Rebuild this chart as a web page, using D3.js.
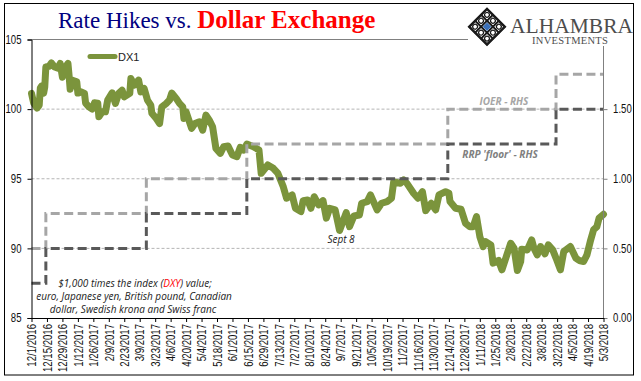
<!DOCTYPE html>
<html>
<head>
<meta charset="utf-8">
<script src="https://d3js.org/d3.v7.min.js"></script>
<style>
  html, body { margin: 0; padding: 0; background: #fff; }
  svg { display: block; }
</style>
</head>
<body>
<div id="chart"></div>
<script>
var width = 641;
var height = 381;

var startDate = new Date(2016, 11, 1);

// labelled every two weeks, 12/1/2016 to 5/3/2018
var tickLabels = ['12/1/2016','12/15/2016','12/29/2016','1/12/2017','1/26/2017','2/9/2017','2/23/2017','3/9/2017','3/23/2017','4/6/2017','4/20/2017','5/4/2017','5/18/2017','6/1/2017','6/15/2017','6/29/2017','7/13/2017','7/27/2017','8/10/2017','8/24/2017','9/7/2017','9/21/2017','10/5/2017','10/19/2017','11/2/2017','11/16/2017','11/30/2017','12/14/2017','12/28/2017','1/11/2018','1/25/2018','2/8/2018','2/22/2018','3/8/2018','3/22/2018','4/5/2018','4/19/2018','5/3/2018'];

var leftTicks = [85, 90, 95, 100, 105];
var rightTicks = [0, 0.5, 1, 1.5];

// DX1, days after 12/1/2016 and index value
var dxDays = [0,2,5,7,8,9,11,12,13,16,18,21,24,26,28,30,33,34,35,37,41,42,45,48,49,52,55,57,60,61,64,67,69,73,76,79,82,84,89,90,93,97,99,102,105,108,109,113,116,118,122,125,127,131,134,137,138,140,145,148,152,155,158,161,164,167,171,174,178,182,186,189,192,195,201,206,208,214,219,223,228,231,236,239,244,246,250,253,256,260,264,267,270,275,279,285,288,292,297,299,304,307,313,317,322,326,328,334,337,340,346,350,354,357,362,366,369,375,378,379,384,389,393,397,400,403,406,409,411,416,418,423,426,429,434,437,440,443,444,449,453,455,458,461,465,468,472,475,479,482,488,493,496,500,503,506,509,512,514,518];
var dxValues = [101.13,100.43,100.07,100.29,101.51,101.65,101.15,101.58,103.03,103.08,103.32,103.03,102.94,103.28,102.29,102.94,103.28,102.44,101.43,102.08,101.96,101.15,101.24,101.13,100.43,100.16,100.0,100.45,100.43,99.45,99.81,99.81,100.65,101.17,100.41,101.13,101.36,100.88,101.13,102.2,101.72,102.08,101.24,101.48,100.65,100.29,99.71,99.33,98.97,100.16,100.41,100.65,101.15,100.77,100.41,100.16,99.33,99.81,98.62,98.97,99.09,98.49,99.57,99.21,98.73,97.18,96.82,97.3,97.35,96.7,96.58,97.25,97.06,97.49,97.3,97.06,95.39,95.99,95.75,95.41,94.43,93.6,93.84,92.88,92.64,93.43,93.48,92.88,93.71,93.12,93.43,92.17,92.88,92.76,91.28,92.57,91.56,92.33,92.4,93.24,93.36,93.84,92.76,93.24,93.36,93.6,94.79,94.67,94.91,94.67,93.96,93.6,94.07,92.71,93.24,92.76,93.84,94.07,93.96,93.36,92.88,92.81,91.81,91.56,91.56,92.28,90.85,90.13,90.49,90.25,88.94,89.13,88.46,89.18,90.37,90.01,88.41,89.05,89.94,89.89,90.61,90.01,89.53,90.13,89.61,90.25,89.89,89.3,88.46,89.77,90.13,89.3,89.13,89.06,89.53,90.49,91.33,91.56,92.17,92.45];

// policy rates, days after 12/1/2016 of each change (last entry is the chart end)
var rateDays = [0, 13, 104, 195, 377, 475, 518];
var rrpValues = [0.25, 0.5, 0.75, 1, 1.25, 1.5, 1.5];
var ioerValues = [0.5, 0.75, 1, 1.25, 1.5, 1.75, 1.75];

var margin = {left: 31.5, right: 37.5, top: 39.5, bottom: 63};

function dayToDate(d) {
  return d3.timeDay.offset(startDate, d);
}

var parseTick = d3.timeParse('%m/%d/%Y');
var tickDates = tickLabels.map(parseTick);

var x = d3.scaleTime()
  .domain([startDate, dayToDate(518)])
  .range([margin.left, width - margin.right]);
var yLeft = d3.scaleLinear().domain([85, 105]).range([height - margin.bottom, margin.top]);
var yRight = d3.scaleLinear().domain([0, 2]).range([height - margin.bottom, margin.top]);

var svg = d3.select('#chart').append('svg')
  .attr('width', width)
  .attr('height', height);

svg.append('rect')
  .attr('x', 4.5).attr('y', 3.5)
  .attr('width', 629).attr('height', 371.5)
  .attr('fill', 'white')
  .attr('stroke', 'black');

// gridlines
svg.append('g').selectAll('line')
  .data([90, 95, 100])
  .enter().append('line')
  .attr('x1', margin.left).attr('x2', width - margin.right)
  .attr('y1', d => yLeft(d)).attr('y2', d => yLeft(d))
  .attr('stroke', '#b4b4b4')
  .attr('stroke-dasharray', '3,2');

svg.append('line')
  .attr('x1', margin.left).attr('x2', 468)
  .attr('y1', yLeft(105)).attr('y2', yLeft(105))
  .attr('stroke', '#808080');

// DX1
var dxLine = d3.line()
  .x((d, i) => x(dayToDate(dxDays[i])))
  .y(d => yLeft(d))
  .curve(d3.curveLinear);

svg.append('path')
  .datum(dxValues)
  .attr('d', dxLine)
  .attr('fill', 'none')
  .attr('stroke', '#7b943c')
  .attr('stroke-width', 7)
  .attr('stroke-linejoin', 'round')
  .attr('stroke-linecap', 'round');

// rates
var rateLine = d3.line()
  .x((d, i) => x(dayToDate(rateDays[i])))
  .y(d => yRight(d))
  .curve(d3.curveStepAfter);

svg.append('path')
  .datum(ioerValues)
  .attr('d', rateLine)
  .attr('fill', 'none')
  .attr('stroke', '#a6a6a6')
  .attr('stroke-width', 3)
  .attr('stroke-dasharray', '9,4.5');

svg.append('path')
  .datum(rrpValues)
  .attr('d', rateLine)
  .attr('fill', 'none')
  .attr('stroke', '#595959')
  .attr('stroke-width', 3)
  .attr('stroke-dasharray', '9,4.5');

// axes
var tickFont = '"Liberation Sans", sans-serif';

var axisLeft = svg.append('g')
  .attr('transform', `translate(${margin.left},0)`)
  .call(d3.axisLeft(yLeft).tickValues(leftTicks).tickFormat(d3.format('d')).tickSize(4));
axisLeft.selectAll('text')
  .attr('x', -12.5)
  .attr('transform', 'scale(0.8,1)');

var axisRight = svg.append('g')
  .attr('transform', `translate(${width - margin.right},0)`)
  .call(d3.axisRight(yRight).tickValues(rightTicks).tickFormat(d3.format('.2f')).tickSize(4));
axisRight.select('.domain').remove();
axisRight.selectAll('line').attr('stroke', '#808080');
axisRight.selectAll('text')
  .attr('x', 12)
  .attr('transform', 'scale(0.8,1)');
svg.append('line')
  .attr('x1', width - margin.right).attr('x2', width - margin.right)
  .attr('y1', 46).attr('y2', yRight(0))
  .attr('stroke', '#808080');

var axisBottom = svg.append('g')
  .attr('transform', `translate(0,${height - margin.bottom})`)
  .call(d3.axisBottom(x).tickValues(tickDates).tickFormat((d, i) => tickLabels[i]).tickSize(4).tickSizeOuter(0));

axisBottom.selectAll('text')
  .attr('transform', 'rotate(-90) scale(0.8,1)')
  .attr('text-anchor', 'end')
  .attr('x', -7.5)
  .attr('y', 0)
  .attr('dy', '0.35em');

[axisLeft, axisRight, axisBottom].forEach(a => {
  a.selectAll('text')
    .style('font-family', tickFont)
    .style('font-size', '12px')
    .attr('fill', '#111');
});

// legend
svg.append('line')
  .attr('x1', 90).attr('x2', 115)
  .attr('y1', 56.5).attr('y2', 56.5)
  .attr('stroke', '#7b943c')
  .attr('stroke-width', 5)
  .attr('stroke-linecap', 'round');
svg.append('text')
  .attr('x', 118).attr('y', 61)
  .style('font-family', '"Liberation Sans", sans-serif')
  .style('font-size', '11px')
  .attr('fill', '#222')
  .text('DX1');

// title
var title = svg.append('text')
  .attr('x', 58).attr('y', 28)
  .style('font-family', '"Liberation Serif", serif')
  .style('font-size', '23px');
title.append('tspan').attr('fill', '#000080').text('Rate Hikes vs. ');
title.append('tspan').attr('fill', '#ff0000')
  .style('font-weight', 'bold')
  .style('font-size', '25px')
  .text('Dollar Exchange');

// annotations
var noteFont = '"Open Sans", "Liberation Sans", sans-serif';

function note(px, py, txt, color, bold) {
  return svg.append('text')
    .attr('x', px).attr('y', py)
    .attr('text-anchor', 'middle')
    .style('font-family', noteFont)
    .style('font-size', '10px')
    .style('font-style', 'italic')
    .style('font-weight', bold ? 'bold' : 'normal')
    .attr('fill', color)
    .text(txt);
}

note(504, 105, 'IOER - RHS', '#a6a6a6', true);
note(500, 158, "RRP 'floor' - RHS", '#7f7f7f', true);
note(341, 243, 'Sept 8', '#222', false);

var n1 = note(135, 287, '', '#222', false);
n1.append('tspan').text('$1,000 times the index (');
n1.append('tspan').attr('fill', '#ff0000').text('DXY');
n1.append('tspan').text(') value;');
note(134, 300, 'euro, Japanese yen, British pound, Canadian', '#222', false);
note(133, 313, 'dollar, Swedish krona and Swiss franc', '#222', false);

// logo: a diamond lattice turned from a 3x3 square grid
var logoCell = 8.4;
var logoCells = d3.cross(d3.range(3), d3.range(3));
var logo = svg.append('g').attr('transform', 'translate(487,26.7) rotate(45)');

logo.selectAll('rect.cell')
  .data(logoCells)
  .enter().append('rect')
  .attr('class', 'cell')
  .attr('x', d => (d[0] - 1.5) * logoCell)
  .attr('y', d => (d[1] - 1.5) * logoCell)
  .attr('width', logoCell).attr('height', logoCell)
  .attr('fill', 'none')
  .attr('stroke', '#1a1a1a')
  .attr('stroke-width', 1.6);

logo.selectAll('circle')
  .data(logoCells.filter(d => !(d[0] === 1 && d[1] === 1)))
  .enter().append('circle')
  .attr('cx', d => (d[0] - 1) * logoCell)
  .attr('cy', d => (d[1] - 1) * logoCell)
  .attr('r', 2.4)
  .attr('fill', 'white')
  .attr('stroke', '#1a1a1a')
  .attr('stroke-width', 1.2);

logo.append('rect')
  .attr('x', -3).attr('y', -3)
  .attr('width', 6).attr('height', 6)
  .attr('fill', '#3b70b8');

logo.append('rect')
  .attr('x', -1.5 * logoCell).attr('y', -1.5 * logoCell)
  .attr('width', 3 * logoCell).attr('height', 3 * logoCell)
  .attr('fill', 'none')
  .attr('stroke', '#1a1a1a')
  .attr('stroke-width', 2.4);

svg.append('text')
  .attr('x', 510).attr('y', 33)
  .style('font-family', '"Liberation Serif", serif')
  .style('font-size', '21.5px')
  .attr('fill', '#4d4d4d')
  .text('ALHAMBRA');
svg.append('text')
  .attr('x', 532).attr('y', 44)
  .style('font-family', '"Liberation Serif", serif')
  .style('font-size', '10.5px')
  .style('letter-spacing', '0.3px')
  .attr('fill', '#4d4d4d')
  .text('INVESTMENTS');
</script>
</body>
</html>
